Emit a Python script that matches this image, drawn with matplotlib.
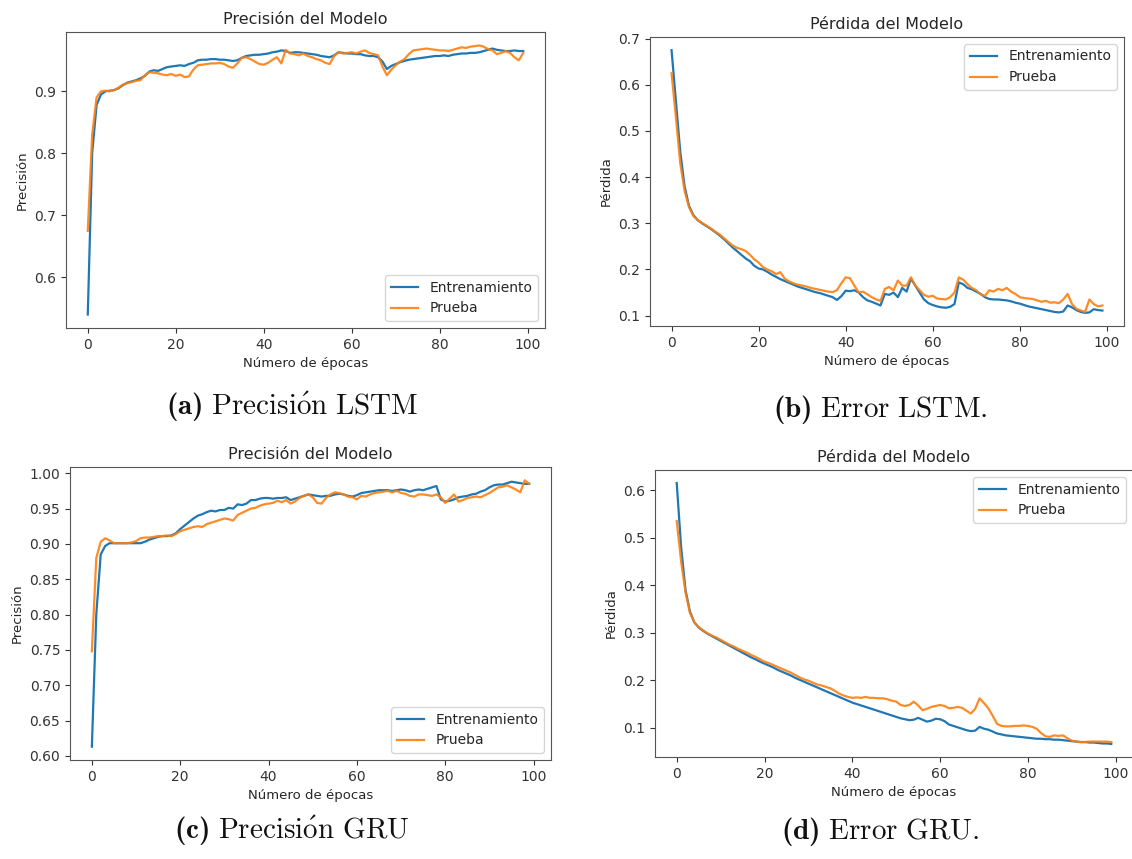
import matplotlib
matplotlib.use("Agg")
import matplotlib.pyplot as plt
import numpy as np

plt.rcParams['mathtext.fontset'] = 'custom'
plt.rcParams['mathtext.rm'] = 'cmr10'
plt.rcParams['mathtext.bf'] = 'cmb10'
plt.rcParams['mathtext.it'] = 'cmmi10'
plt.rcParams['font.family'] = ['DejaVu Sans']

epochs = list(range(100))

lstm_acc_train = [
    0.540, 0.800, 0.878, 0.895, 0.900, 0.901, 0.902, 0.905, 0.910, 0.914,
    0.916, 0.918, 0.921, 0.925, 0.932, 0.934, 0.933, 0.936, 0.939, 0.940,
    0.941, 0.942, 0.941, 0.944, 0.946, 0.950, 0.951, 0.951, 0.952, 0.952,
    0.951, 0.951, 0.950, 0.949, 0.950, 0.954, 0.957, 0.958, 0.959, 0.959,
    0.960, 0.961, 0.963, 0.964, 0.966, 0.965, 0.962, 0.963, 0.963, 0.962,
    0.961, 0.960, 0.959, 0.957, 0.956, 0.955, 0.958, 0.963, 0.962, 0.961,
    0.961, 0.960, 0.960, 0.958, 0.957, 0.957, 0.955, 0.948, 0.936, 0.941,
    0.944, 0.947, 0.949, 0.951, 0.952, 0.953, 0.954, 0.955, 0.956, 0.957,
    0.957, 0.958, 0.957, 0.959, 0.960, 0.961, 0.961, 0.962, 0.962, 0.963,
    0.965, 0.967, 0.969, 0.967, 0.966, 0.965, 0.965, 0.966, 0.965, 0.965]
lstm_acc_test = [
    0.675, 0.830, 0.890, 0.900, 0.901, 0.900, 0.902, 0.906, 0.911, 0.913,
    0.915, 0.917, 0.918, 0.926, 0.931, 0.930, 0.929, 0.927, 0.926, 0.928,
    0.925, 0.927, 0.923, 0.924, 0.935, 0.942, 0.943, 0.944, 0.945, 0.945,
    0.946, 0.944, 0.940, 0.938, 0.945, 0.954, 0.955, 0.952, 0.948, 0.944,
    0.943, 0.946, 0.951, 0.955, 0.945, 0.967, 0.961, 0.960, 0.958, 0.961,
    0.957, 0.955, 0.952, 0.950, 0.946, 0.944, 0.957, 0.963, 0.961, 0.962,
    0.963, 0.961, 0.964, 0.966, 0.962, 0.960, 0.958, 0.940, 0.926, 0.935,
    0.942, 0.948, 0.952, 0.960, 0.966, 0.967, 0.968, 0.969, 0.968, 0.967,
    0.966, 0.966, 0.965, 0.967, 0.969, 0.971, 0.970, 0.972, 0.973, 0.974,
    0.972, 0.968, 0.966, 0.960, 0.962, 0.965, 0.962, 0.955, 0.950, 0.962]

lstm_loss_train = [
    0.675, 0.565, 0.455, 0.380, 0.338, 0.318, 0.307, 0.300, 0.294, 0.288,
    0.281, 0.274, 0.266, 0.257, 0.248, 0.240, 0.232, 0.224, 0.218, 0.208,
    0.202, 0.200, 0.195, 0.189, 0.184, 0.179, 0.175, 0.171, 0.167, 0.163,
    0.160, 0.157, 0.154, 0.151, 0.149, 0.146, 0.143, 0.140, 0.134, 0.142,
    0.154, 0.153, 0.155, 0.150, 0.140, 0.133, 0.130, 0.126, 0.122, 0.147,
    0.145, 0.150, 0.140, 0.160, 0.152, 0.180, 0.165, 0.150, 0.135, 0.127,
    0.123, 0.120, 0.118, 0.117, 0.119, 0.125, 0.172, 0.168, 0.160, 0.157,
    0.152, 0.147, 0.140, 0.136, 0.135, 0.135, 0.134, 0.133, 0.131, 0.128,
    0.126, 0.123, 0.120, 0.118, 0.116, 0.114, 0.112, 0.110, 0.108, 0.107,
    0.109, 0.122, 0.118, 0.112, 0.108, 0.106, 0.107, 0.114, 0.112, 0.111]
lstm_loss_test = [
    0.625, 0.530, 0.430, 0.370, 0.335, 0.316, 0.307, 0.301, 0.295, 0.289,
    0.282, 0.276, 0.268, 0.260, 0.252, 0.247, 0.244, 0.240, 0.232, 0.222,
    0.215, 0.205, 0.200, 0.196, 0.190, 0.194, 0.180, 0.174, 0.170, 0.167,
    0.165, 0.163, 0.160, 0.158, 0.156, 0.154, 0.152, 0.151, 0.155, 0.170,
    0.183, 0.181, 0.165, 0.150, 0.152, 0.146, 0.140, 0.135, 0.132, 0.158,
    0.162, 0.155, 0.176, 0.165, 0.165, 0.183, 0.165, 0.155, 0.145, 0.141,
    0.143, 0.137, 0.136, 0.135, 0.140, 0.150, 0.183, 0.178, 0.168, 0.160,
    0.155, 0.146, 0.143, 0.155, 0.152, 0.158, 0.155, 0.160, 0.152, 0.147,
    0.140, 0.138, 0.137, 0.136, 0.133, 0.130, 0.132, 0.128, 0.129, 0.127,
    0.135, 0.147, 0.125, 0.115, 0.111, 0.108, 0.135, 0.125, 0.120, 0.122]

gru_acc_train = [
    0.613, 0.800, 0.885, 0.897, 0.901, 0.901, 0.901, 0.901, 0.901, 0.901,
    0.901, 0.901, 0.903, 0.906, 0.908, 0.910, 0.911, 0.911, 0.912, 0.915,
    0.921, 0.926, 0.931, 0.936, 0.940, 0.942, 0.945, 0.947, 0.946, 0.948,
    0.948, 0.951, 0.950, 0.956, 0.955, 0.957, 0.962, 0.962, 0.964, 0.965,
    0.965, 0.964, 0.965, 0.965, 0.966, 0.962, 0.964, 0.966, 0.968, 0.970,
    0.969, 0.968, 0.967, 0.968, 0.968, 0.970, 0.971, 0.970, 0.968, 0.967,
    0.969, 0.972, 0.973, 0.974, 0.975, 0.976, 0.976, 0.976, 0.975, 0.976,
    0.977, 0.976, 0.974, 0.976, 0.977, 0.976, 0.978, 0.980, 0.982, 0.963,
    0.960, 0.961, 0.963, 0.966, 0.967, 0.968, 0.970, 0.971, 0.974, 0.976,
    0.980, 0.983, 0.984, 0.984, 0.986, 0.988, 0.987, 0.986, 0.985, 0.985]
gru_acc_test = [
    0.748, 0.880, 0.903, 0.908, 0.905, 0.901, 0.901, 0.901, 0.901, 0.902,
    0.904, 0.908, 0.909, 0.909, 0.910, 0.911, 0.911, 0.912, 0.911, 0.914,
    0.918, 0.920, 0.922, 0.924, 0.925, 0.924, 0.928, 0.930, 0.932, 0.934,
    0.936, 0.935, 0.933, 0.941, 0.944, 0.947, 0.950, 0.951, 0.954, 0.956,
    0.957, 0.958, 0.961, 0.959, 0.962, 0.957, 0.960, 0.965, 0.968, 0.970,
    0.966, 0.958, 0.957, 0.965, 0.970, 0.973, 0.972, 0.970, 0.967, 0.966,
    0.963, 0.968, 0.967, 0.970, 0.972, 0.973, 0.974, 0.975, 0.973, 0.975,
    0.972, 0.971, 0.968, 0.967, 0.970, 0.970, 0.969, 0.968, 0.970, 0.966,
    0.958, 0.964, 0.970, 0.960, 0.962, 0.965, 0.966, 0.967, 0.966, 0.969,
    0.972, 0.976, 0.980, 0.981, 0.983, 0.980, 0.977, 0.973, 0.990, 0.985]

gru_loss_train = [
    0.615, 0.480, 0.390, 0.345, 0.322, 0.311, 0.304, 0.298, 0.293, 0.288,
    0.283, 0.278, 0.273, 0.268, 0.263, 0.258, 0.253, 0.248, 0.244, 0.239,
    0.235, 0.231, 0.227, 0.222, 0.218, 0.214, 0.210, 0.205, 0.201, 0.197,
    0.193, 0.189, 0.185, 0.181, 0.177, 0.173, 0.169, 0.165, 0.161, 0.157,
    0.153, 0.150, 0.147, 0.144, 0.141, 0.138, 0.135, 0.132, 0.129, 0.126,
    0.123, 0.120, 0.118, 0.116, 0.117, 0.121, 0.117, 0.113, 0.115, 0.119,
    0.118, 0.114, 0.107, 0.104, 0.101, 0.098, 0.095, 0.093, 0.094, 0.102,
    0.098, 0.096, 0.092, 0.088, 0.086, 0.084, 0.083, 0.082, 0.081, 0.080,
    0.079, 0.078, 0.077, 0.077, 0.076, 0.076, 0.075, 0.075, 0.074, 0.073,
    0.072, 0.071, 0.070, 0.070, 0.069, 0.069, 0.068, 0.067, 0.067, 0.066]
gru_loss_test = [
    0.535, 0.450, 0.385, 0.342, 0.322, 0.312, 0.305, 0.299, 0.294, 0.290,
    0.285, 0.280, 0.275, 0.271, 0.266, 0.262, 0.258, 0.253, 0.249, 0.244,
    0.239, 0.236, 0.232, 0.228, 0.224, 0.220, 0.216, 0.211, 0.206, 0.202,
    0.199, 0.195, 0.191, 0.189, 0.186, 0.183, 0.178, 0.172, 0.168, 0.165,
    0.163, 0.164, 0.163, 0.165, 0.163, 0.163, 0.162, 0.162, 0.160, 0.157,
    0.155, 0.148, 0.146, 0.148, 0.155, 0.147, 0.137, 0.140, 0.144, 0.146,
    0.148, 0.146, 0.141, 0.142, 0.144, 0.142, 0.136, 0.130, 0.140, 0.162,
    0.152, 0.141, 0.125, 0.108, 0.104, 0.103, 0.103, 0.104, 0.104, 0.105,
    0.104, 0.102, 0.098, 0.089, 0.082, 0.081, 0.084, 0.083, 0.084, 0.078,
    0.073, 0.071, 0.070, 0.070, 0.071, 0.071, 0.071, 0.071, 0.071, 0.070]

series_labels = ["Entrenamiento", "Prueba"]
titles = ["Precisión del Modelo", "Pérdida del Modelo",
          "Precisión del Modelo", "Pérdida del Modelo"]
ylabels = ["Precisión", "Pérdida", "Precisión", "Pérdida"]
xlabel = "Número de épocas"
captions = [r"$\mathbf{(a)}\ \mathrm{Precisi\acute{o}n\ LSTM}$",
            r"$\mathbf{(b)}\ \mathrm{Error\ LSTM.}$",
            r"$\mathbf{(c)}\ \mathrm{Precisi\acute{o}n\ GRU}$",
            r"$\mathbf{(d)}\ \mathrm{Error\ GRU.}$"]

W, H = 1132, 859
fig = plt.figure(figsize=(W / 100, H / 100), dpi=100)

# axes boxes in pixels: left, top, right, bottom
boxes = [(66, 32, 545, 328), (650, 37, 1124, 326),
         (70, 467, 551, 760), (655, 470, 1133, 757)]
data = [(lstm_acc_train, lstm_acc_test), (lstm_loss_train, lstm_loss_test),
        (gru_acc_train, gru_acc_test), (gru_loss_train, gru_loss_test)]
legend_locs = ["lower right", "upper right", "lower right", "upper right"]
cap_pos = [(292, 407), (880, 409), (292, 831), (880, 832)]

text_col = "#262626"
for i in range(4):
    l, t, r, b = boxes[i]
    ax = fig.add_axes([l / W, 1 - b / H, (r - l) / W, (b - t) / H])
    tr, te = data[i]
    ax.plot(epochs, tr, color="#1f77b4", lw=1.6, label=series_labels[0])
    ax.plot(epochs, te, color="#ff7f0e", lw=1.6, label=series_labels[1], alpha=0.9)
    ax.set_title(titles[i], fontsize=11.5, color=text_col)
    ax.set_ylabel(ylabels[i], fontsize=9.5, color=text_col)
    ax.set_xlabel(xlabel, fontsize=9.5, color=text_col)
    ax.tick_params(labelsize=10, colors="#333333")
    for sp in ax.spines.values():
        sp.set_color("#555555")
    ax.set_xticks([0, 20, 40, 60, 80, 100])
    if i == 2:
        ax.set_yticks([0.60, 0.65, 0.70, 0.75, 0.80, 0.85, 0.90, 0.95, 1.00])
    leg = ax.legend(loc=legend_locs[i], fontsize=10)
    for txt in leg.get_texts():
        txt.set_color(text_col)
    cx, cy = cap_pos[i]
    fig.text(cx / W, 1 - cy / H, captions[i], fontsize=21, ha="center",
             va="center", color="#111111")

fig.savefig("out.png", dpi=100)
